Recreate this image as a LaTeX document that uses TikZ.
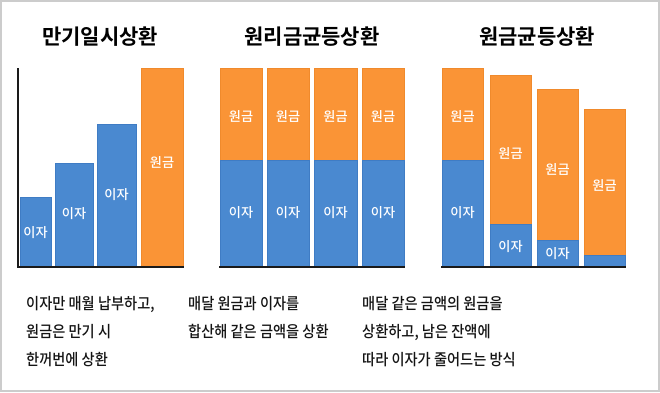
\documentclass[tikz,border=0pt]{standalone}
\usepackage{fontspec}
\newfontfamily\kr[FakeStretch=0.9]{Noto Sans CJK KR Medium}
\newfontfamily\krb{Noto Sans CJK KR Bold}
\newfontfamily\krm{Noto Sans CJK KR Medium}
\definecolor{barblue}{HTML}{4A89D0}
\definecolor{bluedge}{HTML}{3F7CC4}
\definecolor{barorange}{HTML}{FA9436}
\definecolor{orangedge}{HTML}{F08A2C}
\definecolor{frame}{HTML}{CCCCCC}
\definecolor{axis}{HTML}{1A1A1A}
\begin{document}
\begin{tikzpicture}[x=1pt,y=-1pt,
  blue/.style={fill=barblue,draw=bluedge,line width=0.8pt},
  orange/.style={fill=barorange,draw=orangedge,line width=0.8pt},
  lbl/.style={text=white,font=\krm\fontsize{13.2}{15}\selectfont,inner sep=0pt},
  title/.style={font=\krb\fontsize{21}{24}\selectfont,inner sep=0pt,text=black},
  desc/.style={font=\kr\fontsize{15.8}{18}\selectfont,inner sep=0pt,anchor=base west,text=black!92},
  axisline/.style={draw=axis,line width=2pt}]
\useasboundingbox (0,0) rectangle (660,392);
\fill[white] (0,0) rectangle (660,392);
\draw[frame,line width=1.2pt] (1,1) rectangle (659,391);

% Panel 1
\node[title] (t1) at (100,37) {만기일시상환};
\path[blue] (20,197) rectangle (51,267);
\path[blue] (55,163) rectangle (93,267);
\path[blue] (97,124) rectangle (136,267);
\path[orange] (141,68) rectangle (183,267);
\node[lbl] (a1) at (35.5,233) {이자};
\node[lbl] (a2) at (74,214) {이자};
\node[lbl] (a3) at (116.5,195) {이자};
\node[lbl] (a4) at (162,162) {원금};
\coordinate (ax0) at (18,68);
\coordinate (ax1) at (18,267);
\coordinate (ax2) at (184,267);
\draw[axisline] (ax0) -- (ax1) -- (ax2);

% Panel 2
\node[title] (t2) at (312,37) {원리금균등상환};
\foreach \xa/\xb [count=\i] in {220/262,267/309,314/357,362/404}{
  \path[orange] (\xa,68) rectangle (\xb,160);
  \path[blue] (\xa,160) rectangle (\xb,267);
  \node[lbl] (p\i) at ({(\xa+\xb)/2},116) {원금};
  \node[lbl] (q\i) at ({(\xa+\xb)/2},213) {이자};
}
\coordinate (b0) at (219,267);
\coordinate (b1) at (405,267);
\draw[axisline] (b0) -- (b1);

% Panel 3
\node[title] (t3) at (537,37) {원금균등상환};
\path[orange] (442,68) rectangle (483,160);
\path[blue] (442,160) rectangle (483,267);
\path[orange] (490,75) rectangle (531,224);
\path[blue] (490,224) rectangle (531,267);
\path[orange] (537,89) rectangle (578,240);
\path[blue] (537,240) rectangle (578,267);
\path[orange] (584,109) rectangle (625,255);
\path[blue] (584,255) rectangle (625,267);
\node[lbl] (r1) at (462.5,116) {원금};
\node[lbl] (r2) at (510.5,153) {원금};
\node[lbl] (r3) at (557.5,169) {원금};
\node[lbl] (r4) at (604.5,185) {원금};
\node[lbl] (s1) at (462.5,213) {이자};
\node[lbl] (s2) at (510.5,247) {이자};
\node[lbl] (s3) at (557.5,254) {이자};
\coordinate (c0) at (441,267);
\coordinate (c1) at (626,267);
\draw[axisline] (c0) -- (c1);

% Descriptions
\node[desc] (d11) at (26,309) {이자만 매월 납부하고,};
\node[desc] (d12) at (26,337) {원금은 만기 시};
\node[desc] (d13) at (26,365) {한꺼번에 상환};
\node[desc] (d21) at (188,309) {매달 원금과 이자를};
\node[desc] (d22) at (188,337) {합산해 같은 금액을 상환};
\node[desc] (d31) at (362,309) {매달 같은 금액의 원금을};
\node[desc] (d32) at (362,337) {상환하고, 남은 잔액에};
\node[desc] (d33) at (362,365) {따라 이자가 줄어드는 방식};
\end{tikzpicture}
\end{document}
